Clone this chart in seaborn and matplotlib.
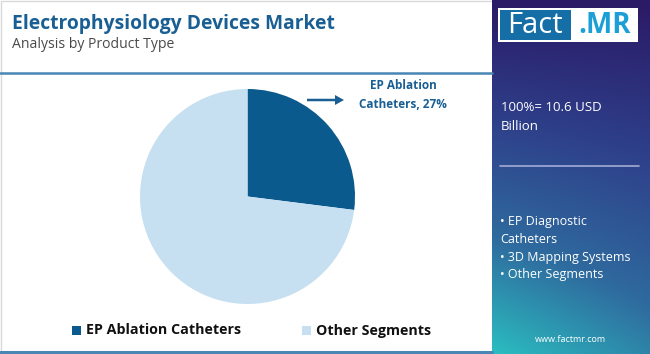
import numpy as np
import matplotlib
matplotlib.use("Agg")
import matplotlib.pyplot as plt
import seaborn as sns
from matplotlib.patches import Rectangle, FancyArrow
from matplotlib.colors import LinearSegmentedColormap

# ==========================
# data
# ==========================
segments = ["EP Ablation Catheters", "Other Segments"]
shares = [27, 73]
colors = ["#0b5a8e", "#c6e0f1"]
total_label = "100%= 10.6 USD\nBillion"
other_items = ["• EP Diagnostic", "Catheters", "• 3D Mapping Systems", "• Other Segments"]

sns.set_theme(style="white")
plt.rcParams["font.family"] = ["Open Sans", "DejaVu Sans"]

W, H = 650, 354
fig = plt.figure(figsize=(W / 100, H / 100), dpi=100)
fig.patch.set_facecolor("white")

# background axes in pixel coords (y down)
bg = fig.add_axes([0, 0, 1, 1])
bg.set_xlim(0, W)
bg.set_ylim(H, 0)
bg.axis("off")

# card border + rules
bg.add_patch(Rectangle((0.5, 0.5), W - 1, H - 1, fill=False, ec="#d9d9d9", lw=1))
bg.plot([0, 492], [73, 73], color="#4a86b4", lw=1.8)
bg.plot([0, 492], [352, 352], color="#4a86b4", lw=2.2)

# gradient side panel
cmap = LinearSegmentedColormap.from_list("panel", ["#2b1a66", "#2e3f8a", "#2f6a9e", "#2bbdc0"])
gx, gy = np.meshgrid(np.linspace(0, 1, 60), np.linspace(0, 1, 200))
grad = 0.85 * gy + 0.25 * (1 - gx) * gy
bg.imshow(grad, extent=(492, W, H, 0), cmap=cmap, aspect="auto", zorder=1)
bg.set_xlim(0, W)
bg.set_ylim(H, 0)

# logo
bg.add_patch(Rectangle((498, 8), 140, 34, fc="white", ec="none", zorder=2))
bg.add_patch(Rectangle((500, 10), 71, 30, fc="#156ea6", ec="none", zorder=3))
bg.text(535, 25.5, "Fact", color="white", fontsize=21, ha="center", va="center", zorder=4)
bg.text(605, 25.5, ".MR", color="#1b9fd6", fontsize=20, fontweight="bold", ha="center", va="center", zorder=4)

# panel texts
bg.text(501, 117, total_label, color="white", fontsize=9.5, ha="left", va="center",
        linespacing=1.65, zorder=4)
bg.plot([500, 639], [166, 166], color="#a3acd6", lw=1.2, zorder=4)
for i, item in enumerate(other_items):
    bg.text(500, 222 + i * 17.5, item, color="white", fontsize=9, ha="left", va="center", zorder=4)
bg.text(570, 339, "www.factmr.com", color="white", fontsize=6.5, ha="center", va="center", zorder=4)

# title
bg.text(12, 24, "Electrophysiology Devices Market", color="#1a5f94", fontsize=13.9,
        fontweight="bold", ha="left", va="center")
bg.text(12, 45, "Analysis by Product Type", color="#4a4a4a", fontsize=10.1, ha="left", va="center")

# annotation
bg.add_patch(FancyArrow(307, 100, 28, 0, width=2.5, head_width=10, head_length=9,
                        length_includes_head=False, color="#1a5f94", lw=0))
bg.text(403, 95, "EP Ablation\nCatheters, 27%", color="#1a5f94", fontsize=8.5,
        fontweight="bold", ha="center", va="center", linespacing=1.6)

# legend
leg_x = [72, 302]
for x, name, c in zip(leg_x, segments, colors):
    bg.add_patch(Rectangle((x, 326), 9, 9, fc=c, ec="none"))
    bg.text(x + 14, 330.5, name, color="#111111", fontsize=10.3, fontweight="bold",
            ha="left", va="center")

# ==========================
# pie
# ==========================
cx, cy, r = 247.5, 196.5, 107.5
ax = fig.add_axes([(cx - r) / W, (H - cy - r) / H, 2 * r / W, 2 * r / H])
ax.pie(shares, colors=colors, startangle=90, counterclock=False,
       wedgeprops={"linewidth": 0})
ax.set_xlim(-1, 1)
ax.set_ylim(-1, 1)
ax.axis("off")

fig.savefig("out.png", dpi=100, facecolor="white")
